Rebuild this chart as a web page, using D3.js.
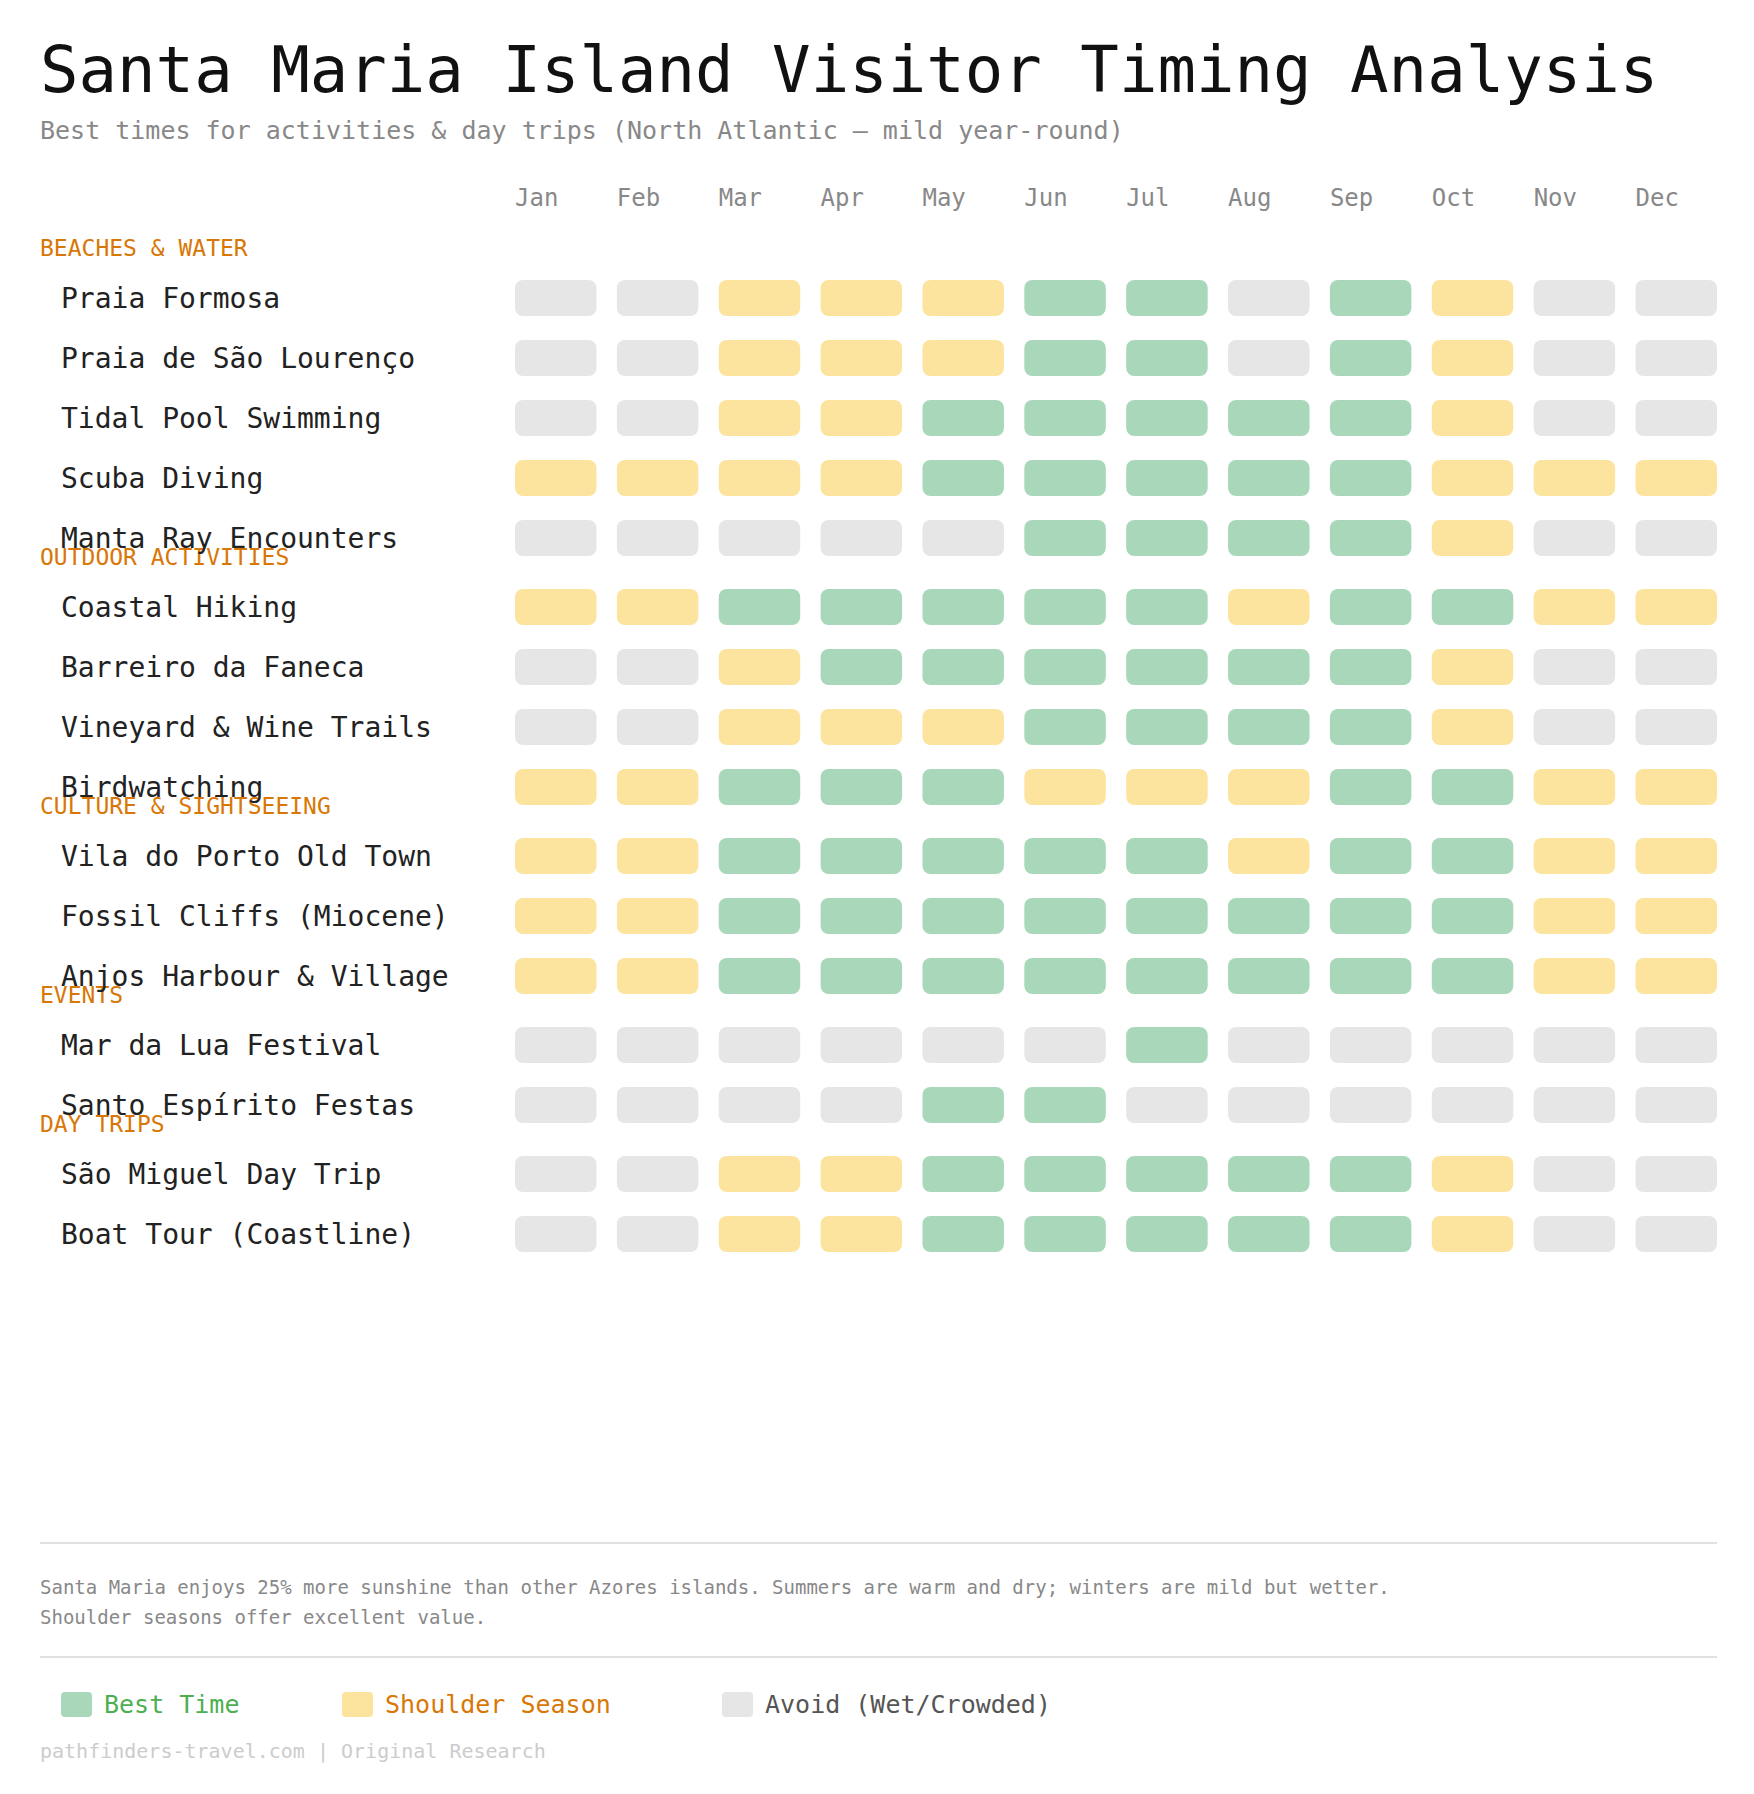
<!DOCTYPE html>
<html><head><meta charset="utf-8">
<script src="https://cdn.jsdelivr.net/npm/d3@7"></script>
<style>body{margin:0;background:#fff}svg{font-family:"DejaVu Sans Mono",monospace}</style>
</head><body><svg id="chart" width="1754" height="1794"></svg>
<script>
const months = ["Jan","Feb","Mar","Apr","May","Jun","Jul","Aug","Sep","Oct","Nov","Dec"];
const groups = ["BEACHES & WATER","OUTDOOR ACTIVITIES","CULTURE & SIGHTSEEING","EVENTS","DAY TRIPS"];
// b = best, s = shoulder, a = avoid
const activities = [
  {g:0, name:"Praia Formosa",            r:"aassbbabsaa".length ? "a a s s s b b a b s a a" : ""},
  {g:0, name:"Praia de São Lourenço",    r:"a a s s s b b a b s a a"},
  {g:0, name:"Tidal Pool Swimming",      r:"a a s s b b b b b s a a"},
  {g:0, name:"Scuba Diving",             r:"s s s s b b b b b s s s"},
  {g:0, name:"Manta Ray Encounters",     r:"a a a a a b b b b s a a"},
  {g:1, name:"Coastal Hiking",           r:"s s b b b b b s b b s s"},
  {g:1, name:"Barreiro da Faneca",       r:"a a s b b b b b b s a a"},
  {g:1, name:"Vineyard & Wine Trails",   r:"a a s s s b b b b s a a"},
  {g:1, name:"Birdwatching",             r:"s s b b b s s s b b s s"},
  {g:2, name:"Vila do Porto Old Town",   r:"s s b b b b b s b b s s"},
  {g:2, name:"Fossil Cliffs (Miocene)",  r:"s s b b b b b b b b s s"},
  {g:2, name:"Anjos Harbour & Village",  r:"s s b b b b b b b b s s"},
  {g:3, name:"Mar da Lua Festival",      r:"a a a a a a b a a a a a"},
  {g:3, name:"Santo Espírito Festas",    r:"a a a a b b a a a a a a"},
  {g:4, name:"São Miguel Day Trip",      r:"a a s s b b b b b s a a"},
  {g:4, name:"Boat Tour (Coastline)",    r:"a a s s b b b b b s a a"}
];
const legendItems = [["b","Best Time","#4caf50"],["s","Shoulder Season","#d97706"],["a","Avoid (Wet/Crowded)","#555"]];
const fill = {b:"#a8d8b9", s:"#fce49e", a:"#e6e6e6"};

const svg = d3.select("#chart");
const x = d3.scaleBand().domain(months).range([515, 1717]).paddingInner(0.2).paddingOuter(0);

svg.append("text").attr("x",40).attr("y",92).attr("font-size",64).attr("fill","#111")
  .text("Santa Maria Island Visitor Timing Analysis");
svg.append("text").attr("x",40).attr("y",139).attr("font-size",25).attr("fill","#888")
  .text("Best times for activities & day trips (North Atlantic — mild year-round)");

svg.selectAll(".month").data(months).enter().append("text")
  .attr("x", d => x(d)).attr("y",206).attr("font-size",24).attr("fill","#888")
  .text(d => d);

// vertical layout
let y = 248, prevG = -1;
const rows = [];
activities.forEach(a => {
  if (a.g !== prevG) {
    if (prevG >= 0) y += 79 - 60;
    rows.push({type:"h", text:groups[a.g], y:y});
    y += 50;
    prevG = a.g;
  } else y += 60;
  rows.push({type:"r", a:a, y:y});
});

rows.filter(r => r.type==="h").forEach(r => {
  svg.append("text").attr("x",40).attr("y",r.y+8).attr("font-size",23).attr("fill","#d97706").text(r.text);
});
rows.filter(r => r.type==="r").forEach(r => {
  svg.append("text").attr("x",61).attr("y",r.y+10).attr("font-size",28).attr("fill","#222").text(r.a.name);
  const vals = r.a.r.split(" ");
  svg.append("g").selectAll("rect").data(months).enter().append("rect")
    .attr("x", d => x(d)).attr("y", r.y-18).attr("width", x.bandwidth()).attr("height",36)
    .attr("rx",8).attr("fill", (d,i) => fill[vals[i]]);
});

svg.append("line").attr("x1",40).attr("x2",1717).attr("y1",1543).attr("y2",1543).attr("stroke","#e0e0e0").attr("stroke-width",2);
svg.append("text").attr("x",40).attr("y",1594).attr("font-size",19).attr("fill","#888")
  .text("Santa Maria enjoys 25% more sunshine than other Azores islands. Summers are warm and dry; winters are mild but wetter.");
svg.append("text").attr("x",40).attr("y",1624).attr("font-size",19).attr("fill","#888")
  .text("Shoulder seasons offer excellent value.");
svg.append("line").attr("x1",40).attr("x2",1717).attr("y1",1657).attr("y2",1657).attr("stroke","#e0e0e0").attr("stroke-width",2);

const lx = [61, 342, 722];
legendItems.forEach((l,i) => {
  svg.append("rect").attr("x",lx[i]).attr("y",1692).attr("width",31).attr("height",25).attr("rx",4).attr("fill",fill[l[0]]);
  svg.append("text").attr("x",lx[i]+43).attr("y",1713).attr("font-size",25).attr("fill",l[2]).text(l[1]);
});
svg.append("text").attr("x",40).attr("y",1758).attr("font-size",20).attr("fill","#ccc")
  .text("pathfinders-travel.com | Original Research");
</script></body></html>
